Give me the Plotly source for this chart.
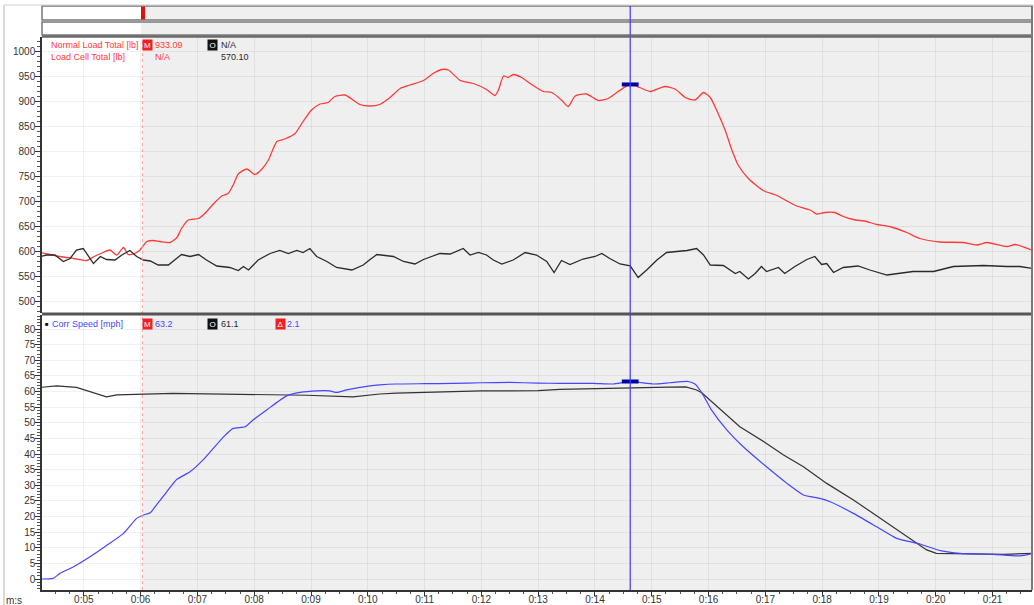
import numpy as np
import plotly.graph_objects as go

# ---------------- data ----------------
# Normal Load Total [lb] (red)
t_load = [4.23, 4.40, 4.58, 4.82, 5.05, 5.20, 5.34, 5.46, 5.58, 5.70, 5.78, 5.87, 5.99,
          6.11, 6.22, 6.34, 6.52, 6.64, 6.72, 6.84, 7.02, 7.13, 7.28, 7.43, 7.54, 7.63,
          7.72, 7.87, 8.01, 8.13, 8.25, 8.40, 8.54, 8.72, 8.86, 9.01, 9.16, 9.30, 9.42,
          9.60, 9.74, 9.86, 10.04, 10.21, 10.39, 10.57, 10.74, 10.98, 11.15, 11.30, 11.42,
          11.63, 11.86, 12.09, 12.24, 12.30, 12.39, 12.47, 12.56, 12.71, 12.86, 13.09,
          13.24, 13.41, 13.53, 13.65, 13.85, 14.06, 14.23, 14.41, 14.62, 14.79, 14.97,
          15.23, 15.41, 15.59, 15.76, 15.91, 16.03, 16.14, 16.29, 16.41, 16.52, 16.70,
          16.96, 17.20, 17.55, 17.79, 17.90, 18.05, 18.22, 18.37, 18.55, 18.78, 18.96,
          19.19, 19.49, 19.72, 20.07, 20.48, 20.72, 20.90, 21.25, 21.40, 21.71]
load_normal = [597, 593, 589, 585, 581, 590, 597, 602, 592, 607, 593, 594, 602,
               619, 621, 619, 617, 627, 645, 662, 665, 675, 694, 710, 715, 732,
               754, 764, 753, 763, 782, 819, 824, 835, 859, 882, 894, 897, 909,
               912, 902, 893, 890, 893, 907, 925, 932, 941, 955, 963, 962,
               941, 935, 923, 911, 922, 950, 947, 953, 947, 935, 919,
               917, 902, 889, 910, 914, 901, 905, 919, 933.09, 927, 919,
               929, 924, 907, 902, 917, 907, 882, 842, 802, 772, 745,
               721, 711, 690, 682, 674, 677, 677, 669, 663, 659, 653,
               649, 637, 625, 618, 617, 612, 617, 609, 613, 601]

# Load Cell Total [lb] (black)
t_cell = [4.23, 4.35, 4.49, 4.64, 4.76, 4.87, 4.99, 5.08, 5.17, 5.29, 5.40, 5.55, 5.67,
          5.81, 5.93, 6.05, 6.17, 6.31, 6.49, 6.61, 6.72, 6.87, 7.02, 7.16, 7.34, 7.57,
          7.72, 7.81, 7.90, 8.07, 8.28, 8.45, 8.60, 8.75, 8.86, 8.98, 9.10, 9.28, 9.45,
          9.72, 9.92, 10.04, 10.16, 10.45, 10.63, 10.83, 10.98, 11.27, 11.45, 11.68,
          11.80, 11.95, 12.09, 12.21, 12.36, 12.56, 12.77, 12.97, 13.15, 13.28, 13.41,
          13.56, 13.79, 14.00, 14.12, 14.26, 14.44, 14.62, 14.67, 14.76, 14.91, 15.09,
          15.26, 15.44, 15.62, 15.79, 15.91, 16.03, 16.26, 16.47, 16.55, 16.70, 16.82,
          16.93, 17.02, 17.23, 17.34, 17.52, 17.73, 17.87, 17.99, 18.08, 18.20, 18.37,
          18.63, 18.84, 19.14, 19.60, 19.96, 20.31, 20.84, 21.25, 21.48, 21.71]
load_cell = [589, 592, 592, 579, 585, 602, 605, 589, 575, 589, 583, 582, 592,
             601, 589, 582, 580, 572, 572, 583, 593, 589, 593, 582, 570, 567,
             561, 569, 562, 582, 595, 601, 595, 601, 597, 605, 589, 579, 567,
             562, 572, 583, 593, 589, 579, 574, 583, 595, 594, 605,
             592, 597, 592, 582, 574, 582, 597, 592, 579, 557, 581,
             573, 584, 589, 595, 585, 574, 570.10, 562, 547, 562, 582,
             597, 599, 601, 605, 592, 572, 571, 555, 559, 544, 555,
             569, 559, 567, 555, 569, 583, 589, 573, 575, 557, 567,
             570, 562, 552, 559, 559, 569, 571, 569, 569, 565]

# Corr Speed [mph] (blue)
t_speed = [4.23, 4.46, 4.58, 4.82, 5.11, 5.40, 5.70, 5.93, 6.05, 6.17, 6.28, 6.46, 6.64,
           6.87, 7.10, 7.28, 7.46, 7.63, 7.84, 7.98, 8.22, 8.57, 8.81, 9.10, 9.33, 9.45,
           9.63, 10.04, 10.21, 10.50, 11.00, 11.50, 12.00, 12.50, 13.00, 13.38, 13.97,
           14.32, 14.62, 15.03, 15.32, 15.64, 15.76, 15.88, 16.05, 16.32, 16.61, 17.02,
           17.38, 17.67, 17.96, 18.14, 18.55, 18.96, 19.31, 19.72, 20.08, 20.43, 21.01,
           21.48, 21.71]
speed_corr = [0.0, 0.2, 1.8, 3.9, 7.1, 10.7, 14.6, 19.4, 20.5, 21.2, 23.7, 27.9, 31.9,
              34.3, 38.1, 41.8, 45.5, 48.2, 48.7, 50.9, 54.1, 58.6, 59.7, 60.2, 60.2, 59.7,
              60.5, 61.8, 62.1, 62.4, 62.5, 62.6, 62.8, 62.9, 62.7, 62.6, 62.6,
              62.4, 63.2, 62.4, 62.8, 63.2, 62.4, 59.6, 54.1, 47.7, 42.3, 35.9,
              30.6, 26.9, 25.8, 24.7, 21.0, 16.7, 13.0, 11.2, 9.1, 8.2, 7.9,
              7.4, 8.2]

# Reference speed [mph] (black)
t_ref = [4.23, 4.52, 4.87, 5.11, 5.40, 5.58, 5.99, 6.57, 7.75, 8.92, 9.74, 10.21, 10.50,
         11.00, 11.50, 12.00, 12.50, 13.00, 13.38, 14.00, 14.62, 15.30, 15.60, 15.79,
         15.88, 16.55, 17.02, 17.32, 17.67, 18.08, 18.55, 19.02, 19.49, 19.84, 20.01,
         20.50, 21.20, 21.71]
speed_ref = [61.3, 61.8, 61.3, 59.9, 58.3, 58.9, 59.2, 59.4, 59.1, 58.8, 58.3, 59.2, 59.5,
             59.8, 60.0, 60.2, 60.2, 60.3, 60.7, 61.0, 61.1, 61.4, 61.5, 60.5,
             59.6, 48.7, 43.4, 39.7, 35.9, 30.6, 25.3, 19.4, 13.5, 9.3, 8.2,
             8.0, 7.9, 8.2]

# axis ticks and cursors
x_ticks = list(range(5, 22))
x_ticktext = ["0:%02d" % s for s in x_ticks]
load_ticks = list(range(500, 1001, 50))
speed_ticks = list(range(0, 81, 5))
t_marker = 6.03      # M marker (red dotted)
t_cursor = 14.62     # blue cursor

# legend readouts
load_m_text = "933.09"
cell_o_text = "570.10"
speed_m_text = "63.2"
speed_o_text = "61.1"
speed_d_text = "2.1"

# ---------------- layout geometry ----------------
W, H = 1034, 605
ML, MR, MT, MB = 42, 2, 37, 15
PW, PH = W - ML - MR, H - MT - MB


def px(xp):
    return (xp - ML) / PW


def py(yp):
    return (H - MB - yp) / PH


X_RANGE = [4.264, 21.694]
TOP_DOM = [py(313), 1.0]
BOT_DOM = [0.0, py(315)]

RED = "#ff3a3a"
BLUE = "#4646ff"
DARK = "#2a2a2a"
FONT = "Liberation Sans, Arial, sans-serif"

fig = go.Figure()
fig.add_trace(go.Scatter(x=t_load, y=load_normal, mode="lines", xaxis="x", yaxis="y",
                         line=dict(color=RED, width=1.3, shape="spline", smoothing=0.6),
                         name="Normal Load Total [lb]"))
fig.add_trace(go.Scatter(x=t_cell, y=load_cell, mode="lines", xaxis="x", yaxis="y",
                         line=dict(color=DARK, width=1.3), name="Load Cell Total [lb]"))
fig.add_trace(go.Scatter(x=t_ref, y=speed_ref, mode="lines", xaxis="x2", yaxis="y2",
                         line=dict(color="#333333", width=1.2), name="Speed ref [mph]"))
fig.add_trace(go.Scatter(x=t_speed, y=speed_corr, mode="lines", xaxis="x2", yaxis="y2",
                         line=dict(color=BLUE, width=1.2, shape="spline", smoothing=0.5),
                         name="Corr Speed [mph]"))

# cursor readout marks on the curves
m_load = float(np.interp(t_cursor, t_load, load_normal))
m_speed = float(np.interp(t_cursor, t_speed, speed_corr))
fig.add_trace(go.Scatter(x=[t_cursor], y=[m_load], mode="markers", xaxis="x", yaxis="y",
                         marker=dict(symbol="line-ew", size=12,
                                     line=dict(color="#0000a0", width=4))))
fig.add_trace(go.Scatter(x=[t_cursor], y=[m_speed], mode="markers", xaxis="x2", yaxis="y2",
                         marker=dict(symbol="line-ew", size=12,
                                     line=dict(color="#0000a0", width=4))))

GRID = "rgba(0,0,0,0.055)"
axis_font = dict(family="Liberation Sans, Arial, sans-serif", size=10, color="#333333")

shapes = []
# plot background left of the M marker is white
for xr, yr in (("x", "y domain"), ("x2", "y2 domain")):
    shapes.append(dict(type="rect", xref=xr, yref=yr, x0=X_RANGE[0], x1=t_marker, y0=0, y1=1,
                       fillcolor="#ffffff", line=dict(width=0), layer="below"))

# top overview bars
for y0, y1 in ((6, 20), (22, 35)):
    shapes.append(dict(type="rect", xref="paper", yref="paper", x0=px(42), x1=px(1032),
                       y0=py(y1), y1=py(y0), fillcolor="#efefef",
                       line=dict(color="#7a7a7a", width=1.5), layer="above"))
    shapes.append(dict(type="rect", xref="paper", yref="paper", x0=px(43), x1=px(141),
                       y0=py(y1 - 1), y1=py(y0 + 1), fillcolor="#ffffff",
                       line=dict(width=0), layer="above"))
shapes.append(dict(type="rect", xref="paper", yref="paper", x0=px(141), x1=px(145),
                   y0=py(19.5), y1=py(6.5), fillcolor="#e01010", line=dict(width=0),
                   layer="above"))

# M marker line and cursor line
shapes.append(dict(type="line", xref="x", yref="paper", x0=t_marker, x1=t_marker,
                   y0=0, y1=1, line=dict(color="#ff9a9a", width=1, dash="dot"),
                   layer="above"))
shapes.append(dict(type="line", xref="x", yref="paper", x0=t_cursor, x1=t_cursor,
                   y0=0, y1=py(6), line=dict(color="#3a3aff", width=1.2), layer="above"))

# panel frames
shapes.append(dict(type="line", xref="paper", yref="paper", x0=px(42), x1=px(1033),
                   y0=py(36.5), y1=py(36.5), line=dict(color="#6a6a6a", width=2.5)))
shapes.append(dict(type="line", xref="paper", yref="paper", x0=px(42), x1=px(1033),
                   y0=py(314), y1=py(314), line=dict(color="#555555", width=3)))
shapes.append(dict(type="line", xref="paper", yref="paper", x0=px(1032), x1=px(1032),
                   y0=py(590), y1=py(6), line=dict(color="#7a7a7a", width=2)))
# outer frame
shapes.append(dict(type="line", xref="paper", yref="paper", x0=px(4), x1=px(4),
                   y0=py(605), y1=py(5), line=dict(color="#b5b5b5", width=1)))
shapes.append(dict(type="line", xref="paper", yref="paper", x0=px(4), x1=px(1034),
                   y0=py(5), y1=py(5), line=dict(color="#cfcfcf", width=1)))

annotations = []


def label(xp, yp, text, color, size=9):
    annotations.append(dict(xref="paper", yref="paper", x=px(xp), y=py(yp), text=text,
                            showarrow=False, xanchor="left", yanchor="middle",
                            font=dict(family=FONT, size=size, color=color)))


def badge(xp, yp, text, bg):
    annotations.append(dict(xref="paper", yref="paper", x=px(xp), y=py(yp), text=text,
                            showarrow=False, xanchor="left", yanchor="middle",
                            bgcolor=bg, borderpad=0, width=9, height=10,
                            font=dict(family="Liberation Sans, Arial", size=8,
                                      color="#ffffff")))


# top panel readouts
label(49, 45, "Normal Load Total [lb]", RED)
badge(142, 45, "M", "#ee2020")
label(153, 45, load_m_text, RED)
badge(207, 45, "O", "#111111")
label(219, 45, "N/A", DARK)
label(49, 57, "Load Cell Total [lb]", RED)
label(153, 57, "N/A", RED)
label(219, 57, cell_o_text, DARK)

# bottom panel readouts
label(43, 324, "■", "#111111", 6)
label(50, 324, "Corr Speed [mph]", BLUE)
badge(142, 324, "M", "#ee2020")
label(153, 324, speed_m_text, BLUE)
badge(207, 324, "O", "#111111")
label(219, 324, speed_o_text, DARK)
badge(275, 324, "Δ", "#ee2020")
label(285, 324, speed_d_text, BLUE)

# x axis unit label
annotations.append(dict(xref="paper", yref="paper", x=px(4), y=py(600), text="m:s",
                        showarrow=False, xanchor="left", yanchor="middle",
                        font=axis_font))

yaxis_common = dict(showline=True, linecolor="#333333", linewidth=1.5, ticks="outside",
                    ticklen=5, tickcolor="#333333", gridcolor=GRID, zeroline=False,
                    tickfont=axis_font, fixedrange=True, ticklabelstandoff=-2)

fig.update_layout(
    width=W, height=H,
    margin=dict(l=ML, r=MR, t=MT, b=MB, autoexpand=False),
    paper_bgcolor="#ffffff", plot_bgcolor="#efefef",
    showlegend=False,
    xaxis=dict(domain=[0, 1], anchor="y", range=X_RANGE, matches="x2",
               showticklabels=False, ticks="", tickvals=x_ticks, gridcolor=GRID,
               showline=False, zeroline=False),
    xaxis2=dict(domain=[0, 1], anchor="y2", range=X_RANGE, tickvals=x_ticks,
                ticktext=x_ticktext, ticks="outside", ticklen=4, tickcolor="#333333",
                ticklabelstandoff=-5,
                showline=True, linecolor="#333333", linewidth=1.5, gridcolor=GRID,
                zeroline=False, tickfont=axis_font,
                minor=dict(dtick=0.25, tick0=5, ticks="outside", ticklen=2,
                           tickcolor="#555555", showgrid=False)),
    yaxis=dict(domain=TOP_DOM, anchor="x", range=[476, 1028], tickvals=load_ticks,
               minor=dict(dtick=10, tick0=500, ticks="outside", ticklen=3,
                          tickcolor="#555555", showgrid=False),
               **yaxis_common),
    yaxis2=dict(domain=BOT_DOM, anchor="x2", range=[-3.52, 84.48], tickvals=speed_ticks,
                minor=dict(dtick=1, tick0=0, ticks="outside", ticklen=3,
                           tickcolor="#555555", showgrid=False),
                **yaxis_common),
    shapes=shapes,
    annotations=annotations,
)

fig.write_html("out.html")
